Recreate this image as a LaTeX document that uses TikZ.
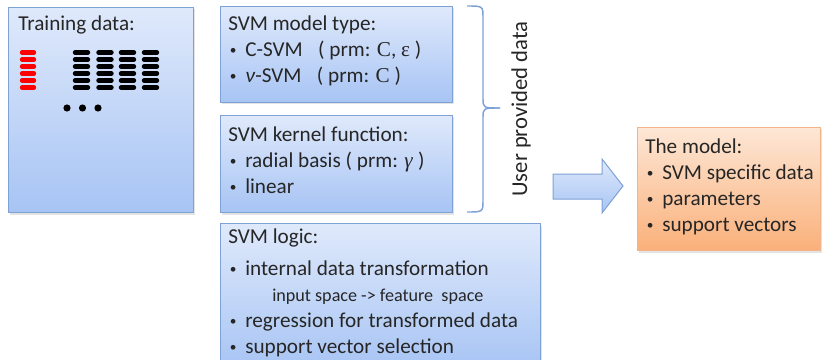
\documentclass[tikz,border=0pt]{standalone}
\usepackage{fontspec}
\setmainfont{Carlito}
\newfontfamily\mathserif{Liberation Serif}
\usetikzlibrary{shadows}
\definecolor{bluetop}{HTML}{DFE9FB}
\definecolor{bluebot}{HTML}{A7C4F4}
\definecolor{blueedge}{HTML}{7EA2D6}
\definecolor{orangetop}{HTML}{FDE7D6}
\definecolor{orangebot}{HTML}{FAB07A}
\definecolor{orangeedge}{HTML}{F2B488}
\definecolor{txt}{HTML}{262626}
\newcommand\itm{\makebox[12.75pt][l]{\hspace*{1.2pt}\raisebox{1.6pt}{\fontsize{10}{10}\selectfont•}}}
\newcommand\ms[1]{{\mathserif #1}}
\begin{document}
\begin{tikzpicture}[x=0.75pt,y=-0.75pt,
  boxbase/.style={draw, line width=0.75pt, inner sep=0pt, anchor=north west,
    drop shadow={shadow xshift=1pt, shadow yshift=-1.5pt, opacity=0.22}},
  bluebox/.style={boxbase, draw=blueedge, top color=bluetop, bottom color=bluebot},
  orangebox/.style={boxbase, draw=orangeedge, top color=orangetop, bottom color=orangebot},
  boxtext/.style={anchor=north west, inner sep=0pt, align=left, text=txt,
    font=\fontsize{15.9}{19.5}\selectfont},
  bar/.style={line width=3.3pt, line cap=round},
]
\useasboundingbox (0,0) rectangle (825,360);
\clip (0,0) rectangle (825,360);

% boxes
\node[bluebox, minimum width=138.75pt, minimum height=153.75pt] (train) at (8,7) {};
\node[bluebox, minimum width=174pt, minimum height=72pt] (mtype) at (220,6) {};
\node[bluebox, minimum width=174pt, minimum height=72.75pt] (kern) at (220,115) {};
\node[bluebox, minimum width=240pt, minimum height=110.25pt] (logic) at (220,223) {};
\node[orangebox, minimum width=137.25pt, minimum height=92.25pt] (model) at (637,127) {};

% texts
\node[boxtext] (ttrain) at (18,16) {Training data:};
\node[boxtext] (tmtype) at (228,16) {SVM model type:\\
  \itm C-SVM \enspace( prm: \ms{C}, \ms{ε} )\\
  \itm \textit{ν}-SVM \enspace( prm: \ms{C} )};
\node[boxtext] (tkern) at (228,127) {SVM kernel function:\\
  \itm radial basis ( prm: \ms{\textit{γ}} )\\
  \itm linear};
\node[boxtext] (tlogic) at (228,229) {SVM logic:\\[4pt]
  \itm internal data transformation\\
  \hspace*{33pt}{\fontsize{13.6}{19.5}\selectfont input space -> feature \ space}\\
  \itm regression for transformed data\\
  \itm support vector selection};
\node[boxtext] (tmodel) at (645,139) {The model:\\
  \itm SVM specific data\\
  \itm parameters\\
  \itm support vectors};

% training data bars
\foreach \k in {0,...,5}{
  \draw[bar, red] (22,52.5+7*\k) -- (34,52.5+7*\k);
  \foreach \c in {75,98.5,121,144}{
    \draw[bar, black] (\c,52.5+7*\k) -- (\c+13,52.5+7*\k);
  }
}
\foreach \c in {67,82.5,98}{
  \fill[black] (\c,108) circle[radius=3.6];
}

% brace
\coordinate (btop) at (467,6);
\coordinate (bbot) at (467,212);
\coordinate (btip) at (500,108);
\draw[blueedge, line width=1.1pt]
  (btop) .. controls (483,6) .. (483,18) -- (483,98)
  .. controls (483,108) .. (btip);
\draw[blueedge, line width=1.1pt]
  (bbot) .. controls (483,212) .. (483,200) -- (483,118)
  .. controls (483,108) .. (btip);
\node[rotate=90, inner sep=0pt, text=txt, font=\fontsize{17}{20}\selectfont] (upd) at (521,109) {User provided data};

% block arrow
\path[draw=blueedge, line width=0.75pt, top color=bluetop, bottom color=bluebot]
  (553,174) -- (602,174) -- (602,159) -- (623,186) -- (602,213) -- (602,199) -- (553,199) -- cycle;
\end{tikzpicture}
\end{document}
